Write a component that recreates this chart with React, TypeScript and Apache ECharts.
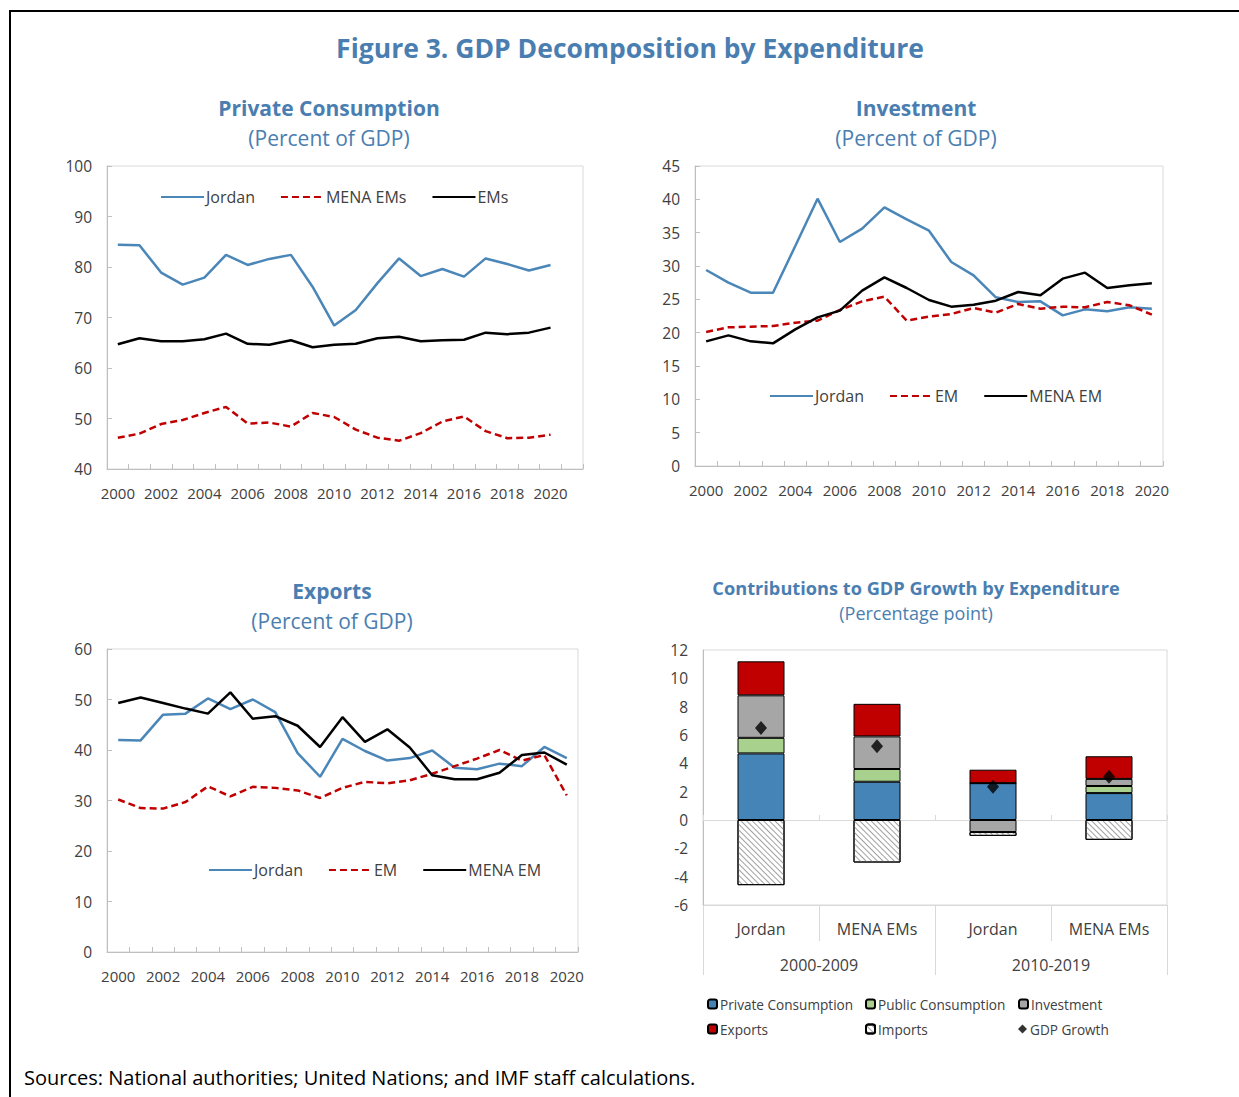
import React, { useEffect, useRef } from 'react';
import * as echarts from 'echarts';

const years = ['2000','2001','2002','2003','2004','2005','2006','2007','2008','2009','2010','2011','2012','2013','2014','2015','2016','2017','2018','2019','2020'];
const privYears = ['2000','2001','2002','2003','2004','2005','2006','2007','2008','2009','2010','2011','2012','2013','2014','2015','2016','2017','2018','2019','2020','2021'];

const privJordan = [84.4,84.3,78.9,76.5,77.9,82.4,80.4,81.6,82.4,76.1,68.4,71.5,76.8,81.7,78.2,79.6,78.1,81.7,80.6,79.3,80.4];
const privMena = [46.2,47.0,48.9,49.7,51.1,52.3,49.0,49.2,48.4,51.1,50.3,47.8,46.2,45.6,47.1,49.4,50.4,47.5,46.1,46.2,46.8];
const privEMs = [64.7,65.9,65.3,65.3,65.7,66.8,64.8,64.6,65.5,64.1,64.6,64.8,65.9,66.2,65.3,65.5,65.6,67.0,66.7,67.0,68.0];

const invJordan = [29.4,27.5,26.0,26.0,33.0,40.1,33.6,35.6,38.8,37.0,35.3,30.6,28.6,25.3,24.6,24.7,22.6,23.5,23.2,23.8,23.6];
const invEM = [20.1,20.8,20.9,21.0,21.5,21.8,23.4,24.7,25.4,21.8,22.4,22.8,23.7,23.0,24.3,23.6,23.9,23.8,24.6,24.1,22.7];
const invMena = [18.7,19.6,18.7,18.4,20.5,22.3,23.3,26.3,28.3,26.7,24.9,23.9,24.2,24.8,26.1,25.6,28.1,29.0,26.7,27.1,27.4];

const expJordan = [42.0,41.9,47.0,47.2,50.2,48.1,50.0,47.5,39.4,34.7,42.2,39.8,37.9,38.4,39.9,36.5,36.2,37.3,36.8,40.6,38.4];
const expEM = [30.2,28.5,28.4,29.7,32.8,30.8,32.7,32.5,32.0,30.5,32.5,33.7,33.4,34.0,35.3,36.8,38.3,40.0,37.9,39.0,31.0];
const expMena = [49.3,50.4,49.3,48.2,47.2,51.4,46.2,46.7,44.8,40.6,46.5,41.6,44.1,40.5,35.0,34.2,34.2,35.5,39.0,39.5,37.1];

const groups = ['Jordan','MENA EMs','Jordan','MENA EMs'];
const periods = ['2000-2009','2010-2019'];
const contribPrivate = [4.7, 2.7, 2.6, 1.9];
const contribPublic = [1.1, 0.9, 0.0, 0.5];
const contribInvestment = [3.0, 2.3, -0.85, 0.5];
const contribExports = [2.4, 2.3, 0.95, 1.6];
const contribImports = [-4.6, -3.0, -0.27, -1.4];
const gdpGrowth = [6.5, 5.2, 2.35, 3.05];

const FONT = "'Open Sans', 'Noto Sans', sans-serif";
const TITLE = '#4a7eb0';
const TXT = '#404040';
const AX = '#bfbfbf';
const BLUE = '#4a86b8';
const RED = '#c00000';

function catAxis(gridIndex: number, data: string[]) {
  return {
    type: 'category', gridIndex, data, boundaryGap: true,
    axisLine: { show: true, lineStyle: { color: AX } },
    axisTick: { show: true, inside: true, length: 5, interval: 0, lineStyle: { color: AX } },
    axisLabel: { interval: 1, color: TXT, fontSize: 15, fontFamily: FONT, margin: 16 },
    splitLine: { show: false },
  };
}
function valAxis(gridIndex: number, min: number, max: number, interval: number, ticks = true) {
  return {
    type: 'value', gridIndex, min, max, interval,
    axisLine: { show: true, lineStyle: { color: AX } },
    axisTick: { show: ticks, inside: true, length: 5, lineStyle: { color: AX } },
    axisLabel: { color: TXT, fontSize: 15.5, fontFamily: FONT, margin: 15 },
    splitLine: { show: false },
  };
}
function line(name: string, data: number[], color: string, dashed: boolean, idx: number) {
  return {
    type: 'line', name, data, xAxisIndex: idx, yAxisIndex: idx, symbol: 'none',
    lineStyle: { color, width: 2.5, type: dashed ? [7, 4] : 'solid' },
    itemStyle: { color },
  };
}
function grid(left: number, top: number, width: number, height: number) {
  return { left, top, width, height, show: true, borderColor: '#d9d9d9', borderWidth: 1, backgroundColor: 'transparent' };
}
function lineLegend(data: string[], left: number, top: number) {
  return {
    data, left, top, orient: 'horizontal', itemWidth: 43, itemHeight: 14, itemGap: 25, padding: 0,
    itemStyle: { opacity: 0 },
    textStyle: { color: TXT, fontSize: 16, fontFamily: FONT, padding: [0, 0, 0, -3] },
  };
}
function barLegend(name: string, left: number, top: number) {
  return {
    data: [name], left, top, itemWidth: 9, itemHeight: 9, padding: 0,
    textStyle: { color: TXT, fontSize: 13.6, fontFamily: FONT, padding: [0, 0, 0, -2] },
  };
}
function txt(text: string, x: number, y: number, size: number, bold: boolean, color: string, align = 'center') {
  return {
    type: 'text', x, y, silent: true,
    style: { text, fill: color, font: `${bold ? 'bold ' : ''}${size}px ${FONT}`, textAlign: align, textVerticalAlign: 'middle' },
  };
}

const barBorder = { borderColor: '#000', borderWidth: 1 };

export default function App() {
  const ref = useRef<HTMLDivElement>(null);
  useEffect(() => {
    if (!ref.current) return;
    const chart = echarts.init(ref.current, null, { renderer: 'svg' });
    const option: any = {
      animation: false,
      backgroundColor: '#fff',
      grid: [grid(107, 166, 476, 303), grid(695, 166, 468, 300), grid(107, 649, 471, 303), grid(703, 650, 464, 255)],
      xAxis: [
        catAxis(0, privYears),
        catAxis(1, years),
        catAxis(2, years),
        {
          type: 'category', gridIndex: 3, data: groups, boundaryGap: true,
          axisLine: { show: true, onZero: true, lineStyle: { color: '#d9d9d9' } },
          axisTick: { show: true, inside: true, length: 5, interval: 0, lineStyle: { color: '#d9d9d9' } },
          axisLabel: { show: false },
        },
        {
          type: 'category', gridIndex: 3, data: groups, boundaryGap: true, position: 'bottom',
          axisLine: { show: true, onZero: false, lineStyle: { color: '#d9d9d9' } },
          axisTick: { show: true, inside: false, length: 36, interval: 0, lineStyle: { color: '#d9d9d9' } },
          axisLabel: { interval: 0, color: TXT, fontSize: 16, fontFamily: FONT, margin: 16 },
        },
        {
          type: 'category', gridIndex: 3, data: periods, boundaryGap: true, position: 'bottom',
          axisLine: { show: false, onZero: false },
          axisTick: { show: true, inside: false, length: 70, interval: 0, lineStyle: { color: '#d9d9d9' } },
          axisLabel: { interval: 0, color: TXT, fontSize: 16, fontFamily: FONT, margin: 52 },
        },
      ],
      yAxis: [
        valAxis(0, 40, 100, 10),
        valAxis(1, 0, 45, 5),
        valAxis(2, 0, 60, 10),
        valAxis(3, -6, 12, 2, false),
      ],
      legend: [
        lineLegend(['Jordan', 'MENA EMs', 'EMs'], 160, 189),
        lineLegend(['Jordan', 'EM', 'MENA EM'], 769, 388),
        lineLegend(['Jordan', 'EM', 'MENA EM'], 208, 862),
        barLegend('Private Consumption', 707, 997),
        barLegend('Public Consumption', 865, 997),
        barLegend('Investment', 1018, 997),
        barLegend('Exports', 707, 1022),
        barLegend('Imports', 865, 1022),
        barLegend('GDP Growth', 1018, 1022),
      ],
      series: [
        line('Jordan', privJordan, BLUE, false, 0),
        line('MENA EMs', privMena, RED, true, 0),
        line('EMs', privEMs, '#000', false, 0),
        line('Jordan', invJordan, BLUE, false, 1),
        line('EM', invEM, RED, true, 1),
        line('MENA EM', invMena, '#000', false, 1),
        line('Jordan', expJordan, BLUE, false, 2),
        line('EM', expEM, RED, true, 2),
        line('MENA EM', expMena, '#000', false, 2),
        { type: 'bar', name: 'Private Consumption', stack: 'c', data: contribPrivate, xAxisIndex: 4, yAxisIndex: 3, barWidth: 47, itemStyle: { color: '#4584b6', ...barBorder } },
        { type: 'bar', name: 'Public Consumption', stack: 'c', data: contribPublic, xAxisIndex: 4, yAxisIndex: 3, barWidth: 47, itemStyle: { color: '#a9d18e', ...barBorder } },
        { type: 'bar', name: 'Investment', stack: 'c', data: contribInvestment, xAxisIndex: 4, yAxisIndex: 3, barWidth: 47, itemStyle: { color: '#a6a6a6', ...barBorder } },
        { type: 'bar', name: 'Exports', stack: 'c', data: contribExports, xAxisIndex: 4, yAxisIndex: 3, barWidth: 47, itemStyle: { color: '#c00000', ...barBorder } },
        {
          type: 'bar', name: 'Imports', stack: 'c', data: contribImports, xAxisIndex: 4, yAxisIndex: 3, barWidth: 47,
          itemStyle: {
            color: '#ffffff', ...barBorder,
            decal: { symbol: 'rect', symbolSize: 1, dashArrayX: [1, 0], dashArrayY: [1, 2.5], rotation: Math.PI / 4, color: '#a0a0a0' },
          },
        },
        { type: 'scatter', name: 'GDP Growth', data: gdpGrowth, xAxisIndex: 4, yAxisIndex: 3, symbol: 'diamond', symbolSize: [12, 14], itemStyle: { color: '#000' }, z: 5 },
      ],
      graphic: [
        { type: 'line', silent: true, shape: { x1: 9, y1: 11, x2: 1239, y2: 11 }, style: { stroke: '#000', lineWidth: 2 } },
        { type: 'line', silent: true, shape: { x1: 10, y1: 10, x2: 10, y2: 1097 }, style: { stroke: '#000', lineWidth: 2 } },
        txt('Figure 3. GDP Decomposition by Expenditure', 630, 48, 26.5, true, TITLE),
        txt('Private Consumption', 329, 108, 21, true, TITLE),
        txt('(Percent of GDP)', 329, 138, 21, false, TITLE),
        txt('Investment', 916, 108, 21, true, TITLE),
        txt('(Percent of GDP)', 916, 138, 21, false, TITLE),
        txt('Exports', 332, 591, 21, true, TITLE),
        txt('(Percent of GDP)', 332, 621, 21, false, TITLE),
        txt('Contributions to GDP Growth by Expenditure', 916, 588, 18.2, true, TITLE),
        txt('(Percentage point)', 916, 613, 18, false, TITLE),
        txt('Sources: National authorities; United Nations; and IMF staff calculations.', 24, 1077, 20, false, '#000', 'left'),
      ],
    };
    chart.setOption(option);
    return () => chart.dispose();
  }, []);
  return <div ref={ref} style={{ position: 'absolute', left: 0, top: 0, width: 1239, height: 1097, background: '#fff' }} />;
}
